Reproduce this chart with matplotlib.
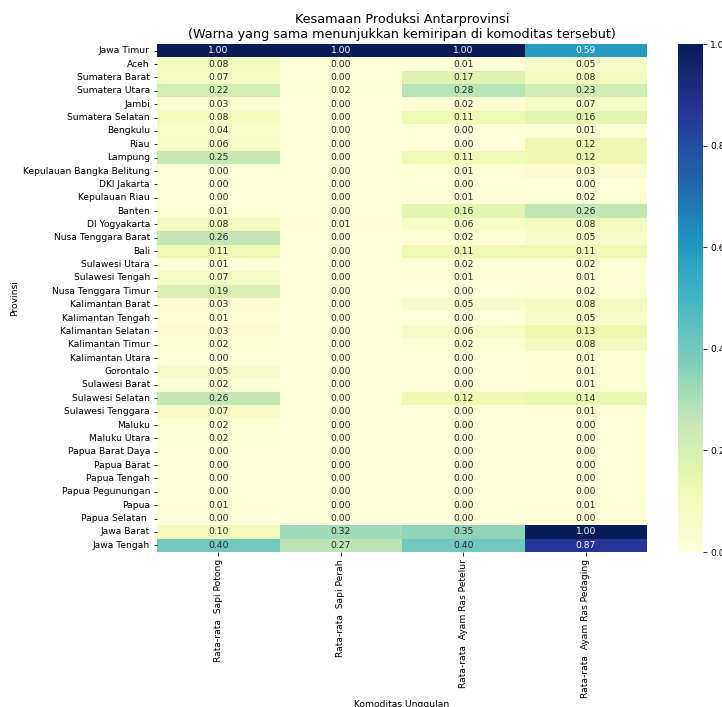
import matplotlib

matplotlib.use("Agg")

import matplotlib.pyplot as plt
import pandas as pd
import seaborn as sns

provinsi = [
    "Jawa Timur", "Aceh", "Sumatera Barat", "Sumatera Utara", "Jambi",
    "Sumatera Selatan", "Bengkulu", "Riau", "Lampung",
    "Kepulauan Bangka Belitung", "DKI Jakarta", "Kepulauan Riau", "Banten",
    "DI Yogyakarta", "Nusa Tenggara Barat", "Bali", "Sulawesi Utara",
    "Sulawesi Tengah", "Nusa Tenggara Timur", "Kalimantan Barat",
    "Kalimantan Tengah", "Kalimantan Selatan", "Kalimantan Timur",
    "Kalimantan Utara", "Gorontalo", "Sulawesi Barat", "Sulawesi Selatan",
    "Sulawesi Tenggara", "Maluku", "Maluku Utara", "Papua Barat Daya",
    "Papua Barat", "Papua Tengah", "Papua Pegunungan", "Papua",
    "Papua Selatan ", "Jawa Barat", "Jawa Tengah",
]

komoditas = [
    "Rata-rata  Sapi Potong",
    "Rata-rata  Sapi Perah",
    "Rata-rata  Ayam Ras Petelur",
    "Rata-rata  Ayam Ras Pedaging",
]

sapi_potong = [
    1.00, 0.08, 0.07, 0.22, 0.03, 0.08, 0.04, 0.06, 0.25, 0.00, 0.00, 0.00,
    0.01, 0.08, 0.26, 0.11, 0.01, 0.07, 0.19, 0.03, 0.01, 0.03, 0.02, 0.00,
    0.05, 0.02, 0.26, 0.07, 0.02, 0.02, 0.00, 0.00, 0.00, 0.00, 0.01, 0.00,
    0.10, 0.40,
]
sapi_perah = [
    1.00, 0.00, 0.00, 0.02, 0.00, 0.00, 0.00, 0.00, 0.00, 0.00, 0.00, 0.00,
    0.00, 0.01, 0.00, 0.00, 0.00, 0.00, 0.00, 0.00, 0.00, 0.00, 0.00, 0.00,
    0.00, 0.00, 0.00, 0.00, 0.00, 0.00, 0.00, 0.00, 0.00, 0.00, 0.00, 0.00,
    0.32, 0.27,
]
ayam_petelur = [
    1.00, 0.01, 0.17, 0.28, 0.02, 0.11, 0.00, 0.00, 0.11, 0.01, 0.00, 0.01,
    0.16, 0.06, 0.02, 0.11, 0.02, 0.01, 0.00, 0.05, 0.00, 0.06, 0.02, 0.00,
    0.00, 0.00, 0.12, 0.00, 0.00, 0.00, 0.00, 0.00, 0.00, 0.00, 0.00, 0.00,
    0.35, 0.40,
]
ayam_pedaging = [
    0.59, 0.05, 0.08, 0.23, 0.07, 0.16, 0.01, 0.12, 0.12, 0.03, 0.00, 0.02,
    0.26, 0.08, 0.05, 0.11, 0.02, 0.01, 0.02, 0.08, 0.05, 0.13, 0.08, 0.01,
    0.01, 0.01, 0.14, 0.01, 0.00, 0.00, 0.00, 0.00, 0.00, 0.00, 0.01, 0.00,
    1.00, 0.87,
]

df = pd.DataFrame(
    {
        komoditas[0]: sapi_potong,
        komoditas[1]: sapi_perah,
        komoditas[2]: ayam_petelur,
        komoditas[3]: ayam_pedaging,
    },
    index=provinsi,
)

# scaled-down text so the long province names fit on the left
FS = 9.1
plt.rcParams["font.size"] = FS

W, H = 722, 707
fig = plt.figure(figsize=(W / 72, H / 72), dpi=72)
ax = fig.add_axes([157 / W, (H - 552) / H, 490 / W, 508 / H])
cax = fig.add_axes([678 / W, (H - 552) / H, 25 / W, 508 / H])

sns.heatmap(
    df,
    ax=ax,
    cbar_ax=cax,
    cmap="YlGnBu",
    vmin=0,
    vmax=1,
    annot=True,
    fmt=".2f",
    annot_kws={"fontsize": FS},
)
ax.set_xticklabels(ax.get_xticklabels(), rotation=90, fontsize=FS)
ax.set_yticklabels(ax.get_yticklabels(), rotation=0, fontsize=FS)
cax.tick_params(labelsize=FS)
ax.set_xlabel("Komoditas Unggulan", fontsize=FS, labelpad=1.5)
ax.set_ylabel("Provinsi", fontsize=FS)
ax.set_title(
    "Kesamaan Produksi Antarprovinsi\n"
    "(Warna yang sama menunjukkan kemiripan di komoditas tersebut)",
    fontsize=12.8,
)

fig.savefig("out.png", dpi=72)
plt.close(fig)
